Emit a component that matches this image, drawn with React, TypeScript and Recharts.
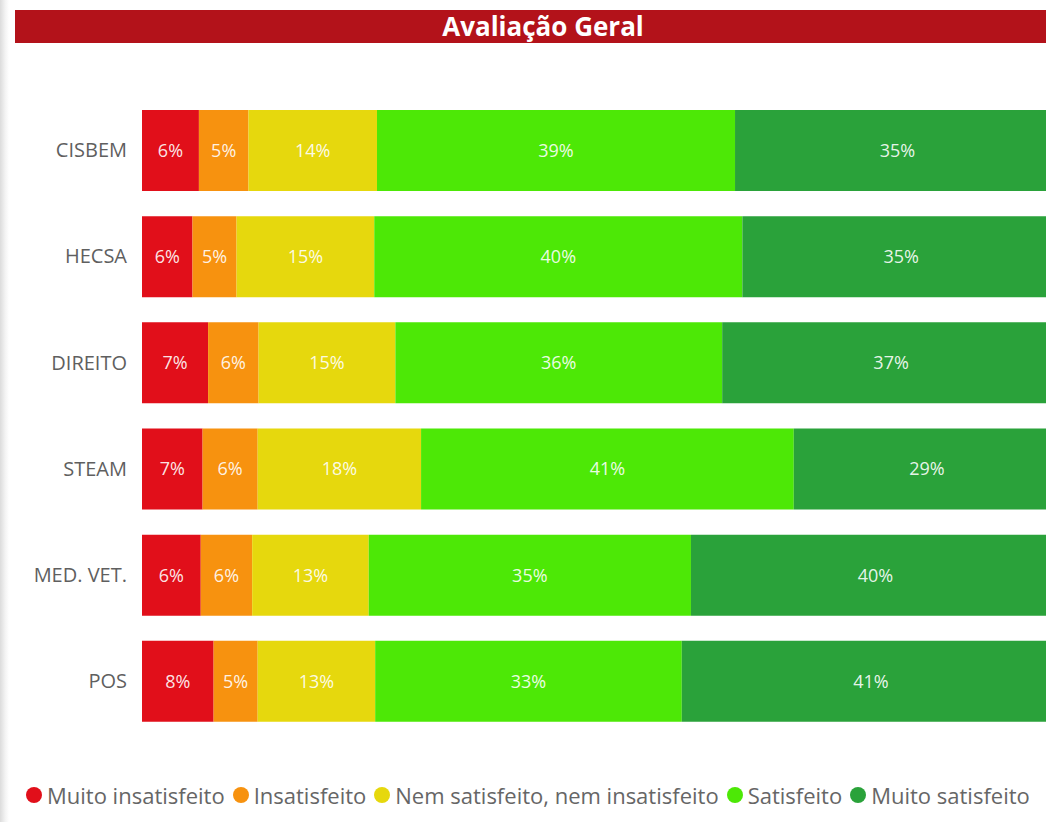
import { BarChart, Bar, XAxis, YAxis, LabelList, Legend } from 'recharts';

const categories = ['CISBEM', 'HECSA', 'DIREITO', 'STEAM', 'MED. VET.', 'POS'];
const muitoInsatisfeito = [6.2, 5.5, 7.2, 6.6, 6.4, 7.8];
const insatisfeito = [5.4, 4.8, 5.5, 6.0, 5.6, 4.8];
const nemNem = [14.0, 15.0, 14.9, 17.8, 12.7, 12.8];
const satisfeito = [39.0, 40.1, 35.6, 40.6, 35.1, 33.4];
const muitoSatisfeito = [35.4, 34.6, 36.8, 29.0, 40.2, 41.2];

const seriesNames = [
    'Muito insatisfeito',
    'Insatisfeito',
    'Nem satisfeito, nem insatisfeito',
    'Satisfeito',
    'Muito satisfeito',
];
const seriesColors = ['#e10f1a', '#f7920f', '#e6d80d', '#4de806', '#2aa23a'];

const data = categories.map((name, i) => ({
    name,
    s0: muitoInsatisfeito[i],
    s1: insatisfeito[i],
    s2: nemNem[i],
    s3: satisfeito[i],
    s4: muitoSatisfeito[i],
}));

const FONT = '"Open Sans", "Segoe UI", sans-serif';

const renderLegend = () => (
    <div style={{ display: 'flex', alignItems: 'center', height: 30, fontFamily: FONT, fontSize: 22, color: '#666', whiteSpace: 'nowrap' }}>
        {seriesNames.map((n, i) => (
            <div key={n} style={{ display: 'flex', alignItems: 'center', marginRight: 8 }}>
                <span style={{ width: 16, height: 16, borderRadius: '50%', background: seriesColors[i], marginRight: 5, display: 'inline-block' }} />
                <span>{n}</span>
            </div>
        ))}
    </div>
);

const App = () => {
    return (
        <div style={{ position: 'absolute', left: 0, top: 0, width: 1046, height: 822, overflow: 'hidden', background: '#fff' }}>
            <div style={{ position: 'absolute', left: 0, top: 0, width: 9, height: 822, background: 'linear-gradient(to right, #dcdcdc, #f4f4f4 60%, #fff)' }} />
            <div
                style={{
                    position: 'absolute', left: 15, top: 10, width: 1056, height: 33, background: '#b3121a',
                    color: '#fff', fontFamily: FONT, fontWeight: 700, fontSize: 26, lineHeight: '33px', textAlign: 'center',
                }}
            >
                Avaliação Geral
            </div>
            <BarChart
                layout="vertical"
                width={1070}
                height={822}
                data={data}
                margin={{ top: 97, right: 10, bottom: 58, left: 0 }}
            >
                <XAxis type="number" domain={[0, 100]} hide />
                <YAxis
                    type="category"
                    dataKey="name"
                    width={142}
                    axisLine={false}
                    tickLine={false}
                    tickSize={0}
                    tickMargin={15}
                    tick={{ fill: '#5f5f5f', fontSize: 20, fontFamily: FONT }}
                />
                <Legend verticalAlign="bottom" content={renderLegend} wrapperStyle={{ left: 26, bottom: 12, width: 1060 }} />
                {['s0', 's1', 's2', 's3', 's4'].map((key, i) => (
                    <Bar key={key} dataKey={key} name={seriesNames[i]} stackId="a" fill={seriesColors[i]} barSize={81} isAnimationActive={false}>
                        <LabelList
                            dataKey={key}
                            position="center"
                            formatter={(v: number) => `${Math.round(v)}%`}
                            fill="#fff"
                            fillOpacity={0.9}
                            fontSize={18}
                            fontFamily={FONT}
                        />
                    </Bar>
                ))}
            </BarChart>
        </div>
    );
};

export default App;
